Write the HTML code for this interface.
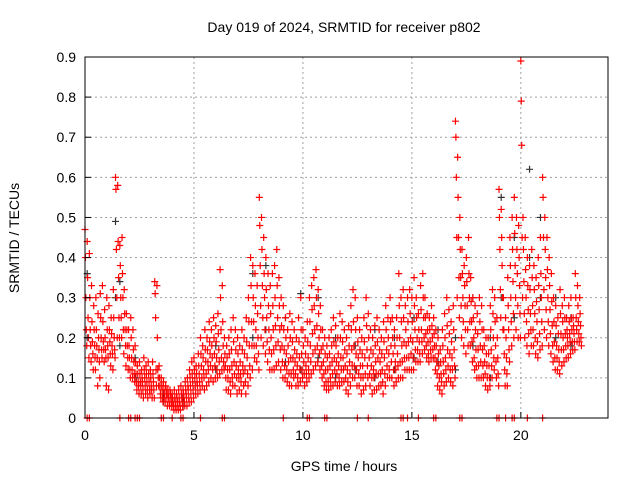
<!DOCTYPE html>
<html><head><meta charset="utf-8"><style>
body{margin:0;background:#fff;}
svg{display:block;font-family:"Liberation Sans",sans-serif;}
</style></head><body>
<svg id="chart" width="640" height="480">
<text x="344" y="32" text-anchor="middle" font-size="14">Day 019 of 2024, SRMTID for receiver p802</text>
<text x="344" y="471" text-anchor="middle" font-size="14">GPS time / hours</text>
<text transform="translate(19,238) rotate(-90)" text-anchor="middle" font-size="14">SRMTID / TECUs</text>
<g id="grid"></g><g id="black"></g><g id="red"></g><g id="axes"></g>
</svg>
<script>
const xTicks=[0,5,10,15,20];
const yTicks=[0,0.1,0.2,0.3,0.4,0.5,0.6,0.7,0.8,0.9];
const redStart=0, redStep=0.1;
const redValues=[
[0.47,0.4,0.3,0.22,0.18],[0.44,0.35,0.25,0.2,0.15],[0.41,0.3,0.22,0.18,0.14],[0.33,0.24,0.19,0.16,0.12],[0.28,0.22,0.18,0.15,0.12],[0.3,0.22,0.18,0.15,0.08],[0.26,0.2,0.17,0.14,0.1],[0.31,0.25,0.2,0.17,0.15],[0.33,0.24,0.19,0.17,0.14],[0.27,0.2,0.17,0.15,0.08],
[0.3,0.22,0.18,0.15,0.07],[0.28,0.22,0.19,0.16,0.13],[0.25,0.21,0.18,0.16,0.12],[0.32,0.25,0.2,0.17,0.15],[0.6,0.57,0.42,0.3,0.2],[0.58,0.44,0.35,0.25,0.2],[0.43,0.38,0.3,0.25,0.2],[0.45,0.36,0.3,0.22,0.16],[0.32,0.26,0.22,0.18,0.13],[0.26,0.22,0.18,0.15,0.12],
[0.22,0.18,0.15,0.12,0.1],[0.25,0.2,0.15,0.12,0.1],[0.22,0.17,0.14,0.11,0.09],[0.18,0.14,0.11,0.09,0.07],[0.13,0.11,0.09,0.08,0.06],[0.14,0.11,0.09,0.08,0.06],[0.12,0.1,0.09,0.07,0.05],[0.15,0.12,0.1,0.08,0.06],[0.13,0.11,0.09,0.07,0.05],[0.14,0.11,0.09,0.07,0.06],
[0.12,0.1,0.08,0.07,0.05],[0.14,0.11,0.09,0.07,0.05],[0.34,0.31,0.25,0.12,0.08],[0.33,0.2,0.12,0.1,0.08],[0.13,0.1,0.08,0.06,0.05],[0.1,0.08,0.07,0.05,0.04],[0.09,0.07,0.06,0.05,0.04],[0.08,0.07,0.06,0.05,0.03],[0.07,0.06,0.05,0.04,0.03],[0.07,0.06,0.05,0.04,0.03],
[0.06,0.05,0.04,0.03,0.02],[0.07,0.05,0.04,0.03,0.02],[0.06,0.05,0.04,0.03,0.02],[0.07,0.05,0.04,0.03,0.02],[0.08,0.06,0.05,0.04,0.03],[0.07,0.06,0.05,0.04,0.03],[0.09,0.07,0.06,0.05,0.03],[0.1,0.08,0.07,0.05,0.04],[0.12,0.1,0.08,0.06,0.04],[0.14,0.11,0.09,0.07,0.05],
[0.15,0.12,0.1,0.08,0.06],[0.13,0.11,0.09,0.08,0.06],[0.16,0.13,0.11,0.09,0.07],[0.2,0.16,0.13,0.1,0.08],[0.18,0.15,0.12,0.1,0.07],[0.22,0.17,0.14,0.11,0.08],[0.2,0.17,0.14,0.12,0.09],[0.24,0.19,0.16,0.13,0.1],[0.22,0.18,0.15,0.12,0.09],[0.25,0.2,0.16,0.13,0.1],
[0.23,0.19,0.15,0.12,0.1],[0.26,0.21,0.17,0.14,0.11],[0.37,0.3,0.22,0.15,0.12],[0.33,0.24,0.18,0.14,0.12],[0.2,0.16,0.13,0.1,0.07],[0.18,0.15,0.12,0.1,0.07],[0.2,0.16,0.12,0.09,0.06],[0.22,0.17,0.13,0.1,0.08],[0.25,0.19,0.14,0.11,0.08],[0.22,0.17,0.13,0.1,0.06],
[0.2,0.16,0.12,0.1,0.07],[0.18,0.14,0.11,0.09,0.06],[0.22,0.17,0.13,0.11,0.08],[0.2,0.16,0.12,0.09,0.06],[0.25,0.19,0.15,0.11,0.08],[0.3,0.24,0.18,0.13,0.1],[0.4,0.33,0.24,0.18,0.12],[0.38,0.3,0.24,0.18,0.15],[0.36,0.28,0.22,0.18,0.14],[0.33,0.26,0.2,0.16,0.12],
[0.55,0.48,0.38,0.28,0.2],[0.5,0.42,0.33,0.25,0.18],[0.45,0.36,0.3,0.22,0.16],[0.4,0.32,0.25,0.19,0.14],[0.36,0.28,0.22,0.17,0.12],[0.33,0.26,0.2,0.16,0.12],[0.36,0.28,0.22,0.17,0.12],[0.38,0.3,0.23,0.18,0.13],[0.42,0.33,0.25,0.19,0.14],[0.35,0.28,0.22,0.17,0.12],
[0.3,0.23,0.18,0.14,0.1],[0.28,0.22,0.17,0.13,0.1],[0.25,0.2,0.16,0.12,0.09],[0.22,0.18,0.14,0.11,0.08],[0.26,0.2,0.15,0.11,0.08],[0.24,0.19,0.15,0.12,0.1],[0.22,0.17,0.14,0.11,0.08],[0.2,0.16,0.13,0.1,0.08],[0.25,0.19,0.15,0.12,0.09],[0.3,0.22,0.16,0.12,0.1],
[0.22,0.18,0.14,0.11,0.08],[0.2,0.16,0.13,0.11,0.09],[0.24,0.19,0.15,0.12,0.1],[0.3,0.24,0.18,0.14,0.11],[0.33,0.27,0.21,0.16,0.12],[0.35,0.28,0.22,0.17,0.13],[0.37,0.3,0.23,0.18,0.14],[0.32,0.26,0.2,0.16,0.12],[0.28,0.22,0.17,0.13,0.1],[0.22,0.18,0.14,0.11,0.08],
[0.2,0.16,0.12,0.09,0.07],[0.18,0.15,0.12,0.09,0.07],[0.2,0.16,0.13,0.1,0.08],[0.22,0.18,0.14,0.11,0.08],[0.25,0.19,0.15,0.12,0.09],[0.23,0.18,0.14,0.11,0.08],[0.2,0.16,0.13,0.1,0.08],[0.26,0.2,0.15,0.12,0.09],[0.24,0.19,0.15,0.12,0.09],[0.22,0.17,0.13,0.1,0.07],
[0.2,0.16,0.12,0.09,0.06],[0.23,0.18,0.14,0.11,0.08],[0.28,0.22,0.17,0.13,0.1],[0.32,0.24,0.18,0.13,0.1],[0.3,0.22,0.16,0.12,0.08],[0.25,0.19,0.15,0.11,0.08],[0.22,0.17,0.13,0.1,0.06],[0.2,0.16,0.13,0.1,0.07],[0.25,0.19,0.15,0.11,0.08],[0.3,0.23,0.17,0.13,0.1],
[0.26,0.2,0.15,0.11,0.08],[0.22,0.17,0.13,0.1,0.06],[0.2,0.16,0.12,0.1,0.07],[0.23,0.18,0.14,0.11,0.07],[0.25,0.19,0.15,0.11,0.08],[0.22,0.17,0.14,0.11,0.08],[0.2,0.16,0.12,0.09,0.06],[0.24,0.19,0.15,0.11,0.08],[0.28,0.22,0.17,0.13,0.1],[0.25,0.2,0.16,0.12,0.1],
[0.3,0.24,0.18,0.14,0.1],[0.25,0.2,0.16,0.12,0.08],[0.22,0.18,0.14,0.12,0.09],[0.25,0.2,0.16,0.13,0.1],[0.36,0.28,0.2,0.14,0.1],[0.3,0.24,0.18,0.14,0.1],[0.32,0.25,0.19,0.15,0.12],[0.28,0.22,0.18,0.15,0.12],[0.3,0.24,0.19,0.15,0.12],[0.32,0.26,0.2,0.16,0.12],
[0.3,0.24,0.19,0.15,0.12],[0.35,0.28,0.22,0.17,0.14],[0.3,0.25,0.2,0.17,0.14],[0.26,0.22,0.19,0.16,0.14],[0.33,0.27,0.22,0.19,0.16],[0.36,0.3,0.25,0.2,0.17],[0.3,0.25,0.21,0.18,0.15],[0.26,0.22,0.19,0.16,0.14],[0.25,0.22,0.19,0.17,0.15],[0.28,0.23,0.2,0.17,0.15],
[0.25,0.21,0.18,0.15,0.12],[0.22,0.18,0.14,0.11,0.08],[0.2,0.16,0.13,0.1,0.07],[0.17,0.14,0.11,0.09,0.06],[0.22,0.18,0.14,0.11,0.08],[0.26,0.2,0.15,0.12,0.09],[0.3,0.23,0.17,0.13,0.1],[0.27,0.21,0.16,0.12,0.09],[0.24,0.19,0.15,0.12,0.08],[0.28,0.22,0.17,0.13,0.1],
[0.74,0.7,0.6,0.45,0.3],[0.65,0.55,0.45,0.35,0.25],[0.5,0.42,0.35,0.28,0.2],[0.42,0.36,0.3,0.24,0.18],[0.38,0.33,0.28,0.22,0.16],[0.4,0.34,0.28,0.22,0.18],[0.45,0.36,0.3,0.24,0.18],[0.35,0.29,0.24,0.19,0.14],[0.3,0.25,0.2,0.15,0.12],[0.28,0.22,0.17,0.13,0.1],
[0.26,0.21,0.17,0.13,0.1],[0.3,0.24,0.18,0.14,0.1],[0.28,0.22,0.17,0.13,0.1],[0.22,0.18,0.14,0.11,0.08],[0.2,0.16,0.13,0.1,0.07],[0.2,0.16,0.13,0.1,0.08],[0.28,0.22,0.17,0.13,0.1],[0.32,0.26,0.2,0.15,0.12],[0.3,0.24,0.18,0.14,0.1],[0.25,0.2,0.15,0.11,0.08],
[0.57,0.5,0.42,0.32,0.25],[0.52,0.45,0.38,0.3,0.22],[0.3,0.22,0.16,0.12,0.08],[0.25,0.2,0.15,0.11,0.08],[0.35,0.28,0.22,0.17,0.14],[0.45,0.38,0.3,0.24,0.18],[0.5,0.42,0.34,0.26,0.2],[0.55,0.46,0.38,0.3,0.22],[0.5,0.42,0.36,0.28,0.2],[0.48,0.4,0.33,0.26,0.2],
[0.89,0.79,0.68,0.45,0.3],[0.5,0.42,0.34,0.26,0.2],[0.45,0.37,0.3,0.24,0.18],[0.4,0.33,0.27,0.21,0.16],[0.38,0.32,0.26,0.22,0.18],[0.42,0.35,0.28,0.22,0.18],[0.38,0.32,0.26,0.2,0.16],[0.35,0.29,0.24,0.19,0.15],[0.4,0.33,0.27,0.21,0.17],[0.45,0.36,0.3,0.24,0.18],
[0.6,0.55,0.45,0.32,0.22],[0.5,0.42,0.35,0.27,0.2],[0.45,0.37,0.3,0.24,0.18],[0.4,0.33,0.27,0.21,0.16],[0.36,0.29,0.23,0.18,0.14],[0.3,0.24,0.19,0.15,0.12],[0.28,0.23,0.18,0.15,0.12],[0.25,0.21,0.17,0.14,0.11],[0.32,0.26,0.21,0.17,0.13],[0.28,0.24,0.2,0.17,0.14],
[0.3,0.25,0.21,0.18,0.15],[0.25,0.22,0.2,0.18,0.15],[0.28,0.24,0.21,0.19,0.16],[0.3,0.25,0.22,0.19,0.17],[0.25,0.23,0.21,0.19,0.17],[0.36,0.3,0.25,0.22,0.19],[0.33,0.28,0.24,0.21,0.19],[0.3,0.26,0.23,0.2,0.18]];
const blackTimes=[0.1,1.4,1.6,2.3,3.6,4.5,6.0,7.7,8.3,9.2,9.9,10.7,11.5,12.4,13.3,14.2,15.1,16.2,17.0,17.8,18.6,19.1,19.7,20.4,20.9,21.6,22.3];
const blackValues=[[0.36,0.2],[0.49,0.3],[0.34,0.18],[0.15,0.1],[0.06,0.04],[0.05,0.03],[0.18,0.12],[0.36,0.2],[0.38,0.22],[0.25,0.14],[0.31,0.12],[0.3,0.15],[0.2,0.1],[0.18,0.12],[0.22,0.1],[0.2,0.12],[0.25,0.15],[0.22,0.14],[0.2,0.12],[0.3,0.18],[0.2,0.1],[0.55,0.3],[0.45,0.25],[0.62,0.4],[0.5,0.3],[0.3,0.2],[0.25,0.18]];
const zeroTimes=[0.1,0.2,1.6,2.0,2.1,2.3,2.4,2.5,3.5,3.6,4.0,4.4,4.5,5.3,6.3,6.4,9.1,10.2,10.3,11.0,11.1,12.5,13.0,14.5,14.6,14.8,15.3,16.0,16.1,17.2,17.3,18.9,19.0,19.3,19.6,19.7,20.3,21.0];

const X0=85,X1=608,Y0=418,Y1=57,XMAX=24,YMAX=0.9;
const sx=t=>X0+(X1-X0)*t/XMAX, sy=v=>Y0-(Y0-Y1)*v/YMAX;
const NS='http://www.w3.org/2000/svg';
function mk(tag,attrs,parent){const e=document.createElementNS(NS,tag);for(const k in attrs)e.setAttribute(k,attrs[k]);parent.appendChild(e);return e;}
const grid=document.getElementById('grid'),axes=document.getElementById('axes');
xTicks.forEach(t=>{const x=sx(t);
 if(t>0){const l=mk('line',{x1:x,x2:x,y1:Y1,y2:Y0,stroke:'#a0a0a0','stroke-dasharray':'2,3'},grid);
 
 }
 const tk=mk('line',{x1:x,x2:x,y1:Y0,y2:Y0-6,stroke:'#000'},axes);
 
 
 const tx=mk('text',{x:x,y:Y0+22,'text-anchor':'middle','font-size':14},axes);tx.textContent=t;
 
 });
yTicks.forEach(v=>{const y=sy(v);
 if(v>0){const l=mk('line',{x1:X0,x2:X1,y1:y,y2:y,stroke:'#a0a0a0','stroke-dasharray':'2,3'},grid);
 
 }
 const tk=mk('line',{x1:X0,x2:X0+6,y1:y,y2:y,stroke:'#000'},axes);
 
 
 const tx=mk('text',{x:X0-9,y:y+5,'text-anchor':'end','font-size':14},axes);tx.textContent=v===0?'0':v.toFixed(1);
 
 });
const b=mk('rect',{x:X0,y:Y1,width:X1-X0,height:Y0-Y1,fill:'none',stroke:'#000'},axes);


function plus(g,t,v,c){const x=sx(t),y=sy(v);
 const p=mk('path',{d:`M${x-3.5} ${y}h7M${x} ${y-3.5}v7`,stroke:c,'stroke-width':1.2,fill:'none'},g);
 
 }
const bg=document.getElementById('black'),rg=document.getElementById('red');
blackTimes.forEach((t,i)=>blackValues[i].forEach(v=>plus(bg,t,v,'#333')));
redValues.forEach((vals,i)=>{const t=redStart+i*redStep;vals.forEach((v,j)=>plus(rg,t+j*0.02,v,'#f00'));});
zeroTimes.forEach(t=>plus(rg,t,0,'#f00'));
</script>
</body></html>
